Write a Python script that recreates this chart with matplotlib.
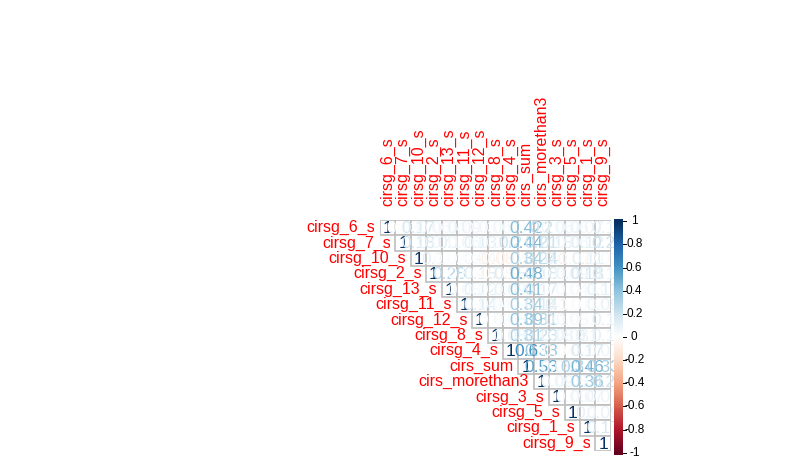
import numpy as np
import matplotlib
matplotlib.use("Agg")
import matplotlib.pyplot as plt
from matplotlib.colors import LinearSegmentedColormap
from matplotlib.patches import Rectangle

plt.rcParams['font.family'] = ['Liberation Sans', 'DejaVu Sans']

names = ["cirsg_6_s", "cirsg_7_s", "cirsg_10_s", "cirsg_2_s", "cirsg_13_s",
         "cirsg_11_s", "cirsg_12_s", "cirsg_8_s", "cirsg_4_s", "cirs_sum",
         "cirs_morethan3", "cirsg_3_s", "cirsg_5_s", "cirsg_1_s", "cirsg_9_s"]

# upper triangle of the correlation matrix, row by row (values right of the diagonal)
r_6 = [0.03, 0.17, 0.06, 0.04, 0.09, 0.03, 0.06, 0.03, 0.42, 0.2, 0.06, 0.06, 0.07, 0.1]
r_7 = [0.18, 0.07, 0.1, 0.06, 0.13, 0.06, 0.2, 0.44, 0.21, 0.15, 0.06, 0.12, 0.2]
r_10 = [0.1, 0.02, 0.01, 0.04, -0.08, -0.05, 0.34, 0.24, 0.1, -0.07, 0.11, 0.03]
r_2 = [0.28, 0.01, 0.15, -0.05, 0.15, 0.48, 0.18, 0.02, 0.09, 0.18, 0.1]
r_13 = [0.05, 0.12, 0.02, 0.09, 0.41, 0.17, 0.01, 0.04, 0.03, 0.11]
r_11 = [0.14, 0.04, 0.02, 0.34, 0.14, 0.1, -0.02, 0.02, 0.09]
r_12 = [0.02, 0.03, 0.39, 0.31, 0.1, 0.05, 0.02, 0.1]
r_8 = [0.08, 0.31, 0.23, 0.08, 0.08, 0.1, 0.1]
r_4 = [0.6, 0.38, -0.04, 0.02, 0.17, 0.07]
r_sum = [0.53, 0.08, 0.3, 0.46, 0.33]
r_m3 = [0.09, 0.05, 0.36, 0.2]
r_3 = [0.05, 0.07, 0.07]
r_5 = [0.1, 0.09]
r_1 = [0.17]
upper_rows = [r_6, r_7, r_10, r_2, r_13, r_11, r_12, r_8, r_4, r_sum, r_m3, r_3, r_5, r_1, []]

cbar_ticks = [1, 0.8, 0.6, 0.4, 0.2, 0, -0.2, -0.4, -0.6, -0.8, -1]

n = len(names)
corr = np.eye(n)
for i, row in enumerate(upper_rows):
    for k, v in enumerate(row):
        corr[i, i + 1 + k] = v
        corr[i + 1 + k, i] = v

cmap = LinearSegmentedColormap.from_list("rdbu", [
    "#67001F", "#B2182B", "#D6604D", "#F4A582", "#FDDBC7", "#FFFFFF",
    "#D1E5F0", "#92C5DE", "#4393C3", "#2166AC", "#053061"], N=200)

W, H = 800, 465
fig = plt.figure(figsize=(8, 4.65), dpi=100)

# matrix axes
x0, x1, y0, y1 = 380, 610.7, 220, 451
ax = fig.add_axes([x0 / W, (H - y1) / H, (x1 - x0) / W, (y1 - y0) / H])
ax.set_xlim(-0.5, n - 0.5)
ax.set_ylim(n - 0.5, -0.5)
ax.axis("off")


def fmt(v):
    s = f"{v:.2f}".rstrip("0").rstrip(".")
    return s


for i in range(n):
    for j in range(i, n):
        ax.add_patch(Rectangle((j - 0.5, i - 0.5), 1, 1, facecolor="white",
                               edgecolor="#BEBEBE", lw=1.2))
for i in range(n):
    for j in range(i, n):
        v = corr[i, j]
        ax.text(j, i + 0.05, fmt(v), ha="center", va="center", fontsize=12.5,
                color=cmap((v + 1) / 2), clip_on=False)

for i, name in enumerate(names):
    ax.text(i - 0.5 - 0.3, i, name, ha="right", va="center", color="red",
            fontsize=11.5, clip_on=False)
    ax.text(i, -0.5 - 0.9, name, ha="center", va="bottom", rotation=90,
            color="red", fontsize=11.5, clip_on=False)

# colour bar
cx0, cx1, cy0, cy1 = 614, 623, 219, 455
cax = fig.add_axes([cx0 / W, (H - cy1) / H, (cx1 - cx0) / W, (cy1 - cy0) / H])
grad = np.linspace(-1.02, 1.02, 200).reshape(-1, 1)
cax.imshow(grad, aspect="auto", cmap=cmap, vmin=-1, vmax=1, origin="lower",
           extent=[0, 1, -1.02, 1.02])
cax.set_xlim(0, 1)
cax.set_ylim(-1.02, 1.02)
cax.axis("off")
for t in cbar_ticks:
    cax.plot([1, 1.35], [t, t], color="black", lw=0.7, clip_on=False)
    cax.text(2.25, t, fmt(t) if t != 0 else "0", ha="center", va="center",
             fontsize=8.5, clip_on=False)

fig.savefig("out.png", dpi=100)
